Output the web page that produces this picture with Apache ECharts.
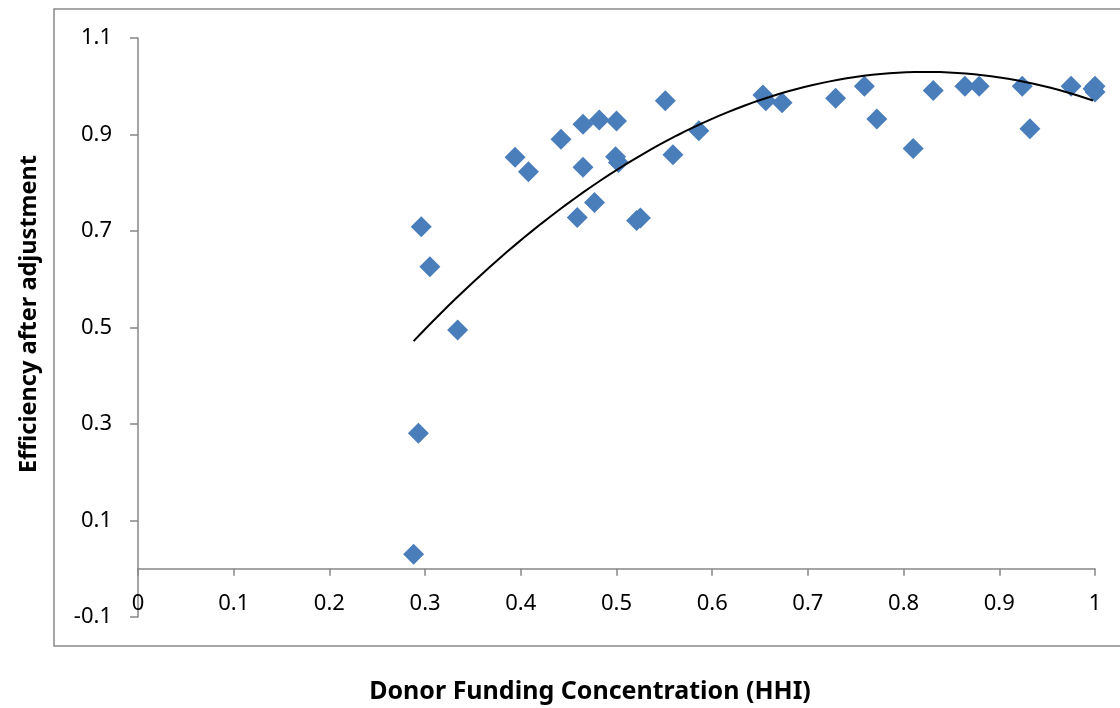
<!DOCTYPE html>
<html>
<head>
<meta charset="utf-8">
<script src="https://cdn.jsdelivr.net/npm/echarts@6/dist/echarts.min.js"></script>
<style>
  html, body { margin: 0; padding: 0; background: #fff; }
  #chart { width: 1120px; height: 708px; }
</style>
</head>
<body>
<div id="chart"></div>
<script>
// donor funding concentration (HHI) per unit
var hhi = [0.288, 0.293, 0.296, 0.305, 0.334, 0.394, 0.408, 0.442, 0.459, 0.465,
           0.465, 0.477, 0.482, 0.500, 0.499, 0.502, 0.521, 0.525, 0.551, 0.559,
           0.586, 0.653, 0.656, 0.673, 0.729, 0.759, 0.772, 0.810, 0.831, 0.864,
           0.879, 0.924, 0.932, 0.975, 0.998, 1.000, 1.000];
// efficiency after adjustment
var efficiency = [0.030, 0.281, 0.709, 0.626, 0.495, 0.853, 0.823, 0.890, 0.728, 0.921,
                  0.832, 0.759, 0.930, 0.928, 0.854, 0.842, 0.722, 0.727, 0.970, 0.858,
                  0.908, 0.982, 0.970, 0.966, 0.975, 1.000, 0.932, 0.871, 0.991, 1.000,
                  1.000, 1.000, 0.912, 1.000, 0.995, 1.000, 0.988];

// polynomial trendline y = c0 + c1*x + c2*x^2
var trendCoef = [-0.290, 3.206, -1.947];
var trendRange = [0.288, 0.998];

var xTicks = [0, 0.1, 0.2, 0.3, 0.4, 0.5, 0.6, 0.7, 0.8, 0.9, 1];
var yTicks = [-0.1, 0.1, 0.3, 0.5, 0.7, 0.9, 1.1];

var points = hhi.map(function (x, i) { return [x, efficiency[i]]; });

var trend = [];
for (var n = 0; n <= 80; n++) {
  var x = trendRange[0] + (trendRange[1] - trendRange[0]) * n / 80;
  trend.push([x, trendCoef[0] + trendCoef[1] * x + trendCoef[2] * x * x]);
}

var font = 'Noto Sans';
var axisGrey = '#868686';
var chart = echarts.init(document.getElementById('chart'));

var xBase = {
  type: 'value',
  min: xTicks[0],
  max: xTicks[xTicks.length - 1],
  interval: 0.1,
  splitLine: { show: false }
};

var option = {
  animation: false,
  grid: { left: 138, right: 25, top: 38, bottom: 91, outerBoundsMode: 'none', containLabel: false },
  graphic: [{
    type: 'rect',
    shape: { x: 54, y: 9, width: 1080, height: 637 },
    style: { fill: 'none', stroke: '#898989', lineWidth: 1.5 },
    silent: true
  }, {
    type: 'text',
    x: 590, y: 692,
    style: {
      text: 'Donor Funding Concentration (HHI)',
      font: 'bold 25px "Noto Sans"', fill: '#000',
      align: 'center', verticalAlign: 'middle'
    }
  }, {
    type: 'text',
    x: 29, y: 314,
    rotation: Math.PI / 2,
    style: {
      text: 'Efficiency after adjustment',
      font: 'bold 23.5px "Noto Sans"', fill: '#000',
      align: 'center', verticalAlign: 'middle'
    }
  }],
  xAxis: [
    // line + ticks crossing at y = 0
    Object.assign({}, xBase, {
      axisLine: { onZero: true, lineStyle: { color: axisGrey, width: 1.5 } },
      axisTick: { show: true, length: 7, lineStyle: { color: axisGrey, width: 1.5 } },
      axisLabel: { show: false }
    }),
    // labels only, shifted up under the zero line
    Object.assign({}, xBase, {
      position: 'bottom',
      offset: -48,
      axisLine: { show: false, onZero: false },
      axisTick: { show: false },
      axisLabel: {
        margin: 24,
        fontFamily: font, fontSize: 22, color: '#000',
        formatter: function (v) { return String(+v.toFixed(1)); }
      }
    })
  ],
  yAxis: {
    type: 'value',
    min: yTicks[0],
    max: yTicks[yTicks.length - 1],
    interval: 0.2,
    axisLine: { show: true, onZero: false, lineStyle: { color: axisGrey, width: 1.5 } },
    axisTick: { show: true, length: 8, lineStyle: { color: axisGrey, width: 1.5 } },
    axisLabel: {
      margin: 26,
      fontFamily: font, fontSize: 22, color: '#000',
      formatter: function (v) { return v.toFixed(1); }
    },
    splitLine: { show: false }
  },
  series: [{
    type: 'scatter',
    data: points,
    symbol: 'diamond',
    symbolSize: 21,
    itemStyle: { color: '#4A7EBB', opacity: 1 },
    z: 2
  }, {
    type: 'line',
    data: trend,
    showSymbol: false,
    lineStyle: { color: '#000', width: 2 },
    z: 3
  }]
};

chart.setOption(option);
</script>
</body>
</html>
